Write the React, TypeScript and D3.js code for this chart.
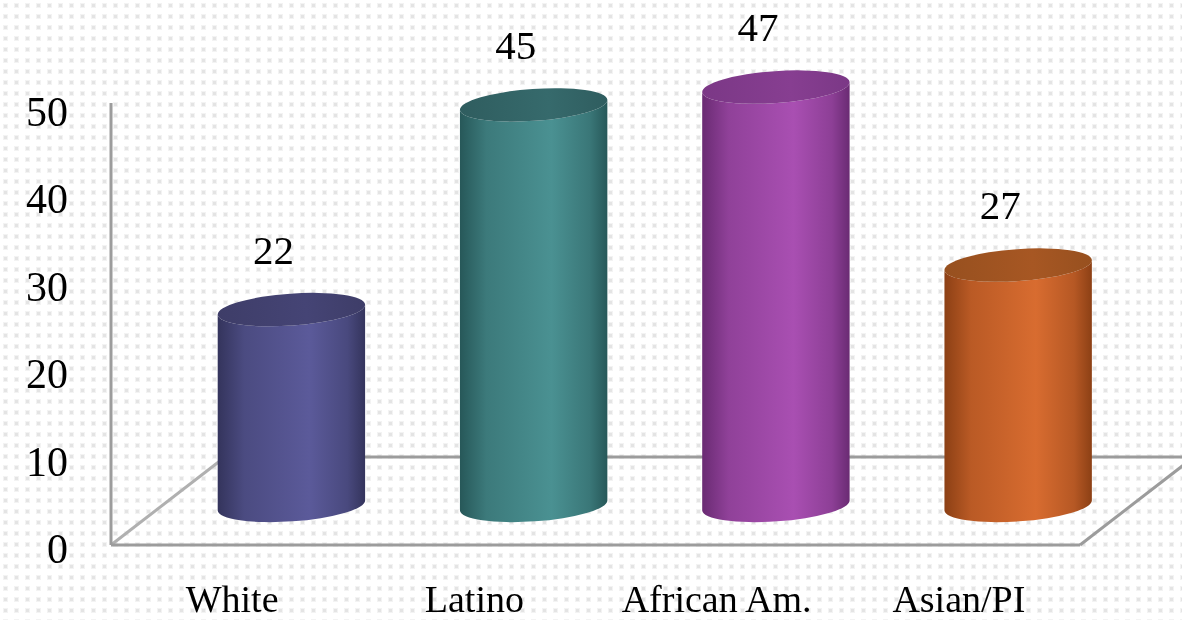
import React from "react";
import * as d3 from "d3";

// Chart data
const categories: string[] = ["White", "Latino", "African Am.", "Asian/PI"];
const values: number[] = [22, 45, 47, 27];
const tickValues: number[] = [0, 10, 20, 30, 40, 50];

// Cylinder colours: [edge shade, highlight, top cap]
const barColors: [string, string, string][] = [
  ["#34345c", "#5b5a9a", "#3e3d68"],
  ["#275859", "#4a9192", "#2f5d5f"],
  ["#6a2b73", "#a94fb2", "#7b3886"],
  ["#8c4015", "#d86c30", "#97501f"],
];

const W = 1182;
const H = 620;
const FONT = "'Liberation Serif', 'Times New Roman', serif";

export default function App() {
  // Floor geometry (front edge and depth vector of the 3D floor)
  const plotLeft = 111;
  const plotRight = 1080;
  const floorY = 545;
  const depthDx = 114;
  const depthDy = -88;
  const axisTop = 103;

  const xFront = d3.scaleBand<string>().domain(categories).range([plotLeft, plotRight]);
  const bw = xFront.bandwidth();

  // Tick label positions along the front axis
  const yTick = d3.scaleLinear().domain([0, 50]).range([549, 112]);

  // Bars stand in the middle of the floor depth
  const barBase = floorY + depthDy * 0.45;
  const yBar = d3.scaleLinear().domain([0, 50]).range([barBase, barBase - 445]);

  const rx = bw * 0.305;
  const ry = 16;
  const rot = -4; // degrees, tilt of the cylinder ellipses
  const th = (rot * Math.PI) / 180;
  const ex = rx * Math.cos(th);
  const ey = rx * Math.sin(th);

  const barCx = (c: string) => (xFront(c) as number) + bw / 2 + depthDx * 0.52;

  const cylinderBody = (cx: number, yt: number, yb: number) => {
    // left side down, front of bottom ellipse, right side up, front of top ellipse back
    return [
      `M${cx - ex},${yt - ey}`,
      `L${cx - ex},${yb - ey}`,
      `A${rx},${ry} ${rot} 0 0 ${cx + ex},${yb + ey}`,
      `L${cx + ex},${yt + ey}`,
      `A${rx},${ry} ${rot} 0 1 ${cx - ex},${yt - ey}`,
      "Z",
    ].join(" ");
  };

  return (
    <svg
      width={W}
      height={H}
      viewBox={`0 0 ${W} ${H}`}
      style={{ position: "fixed", left: 0, top: 0, display: "block" }}
    >
      <defs>
        <pattern id="dots" width={11} height={11} patternUnits="userSpaceOnUse">
          <rect x={0} y={0} width={11} height={11} fill="#ffffff" />
          <rect x={3} y={3} width={5} height={5} fill="#f3f3f3" />
          <rect x={4} y={4} width={3} height={3} fill="#e4e4e4" />
        </pattern>
        {barColors.map((c, i) => (
          <linearGradient key={i} id={`body${i}`} x1="0" x2="1" y1="0" y2="0">
            <stop offset="0%" stopColor={c[0]} />
            <stop offset="18%" stopColor={d3.interpolateRgb(c[0], c[1])(0.6)} />
            <stop offset="62%" stopColor={c[1]} />
            <stop offset="88%" stopColor={d3.interpolateRgb(c[1], c[0])(0.45)} />
            <stop offset="100%" stopColor={c[0]} />
          </linearGradient>
        ))}
        {barColors.map((c, i) => (
          <linearGradient key={i} id={`top${i}`} x1="0" x2="1" y1="0" y2="0">
            <stop offset="0%" stopColor={c[2]} />
            <stop offset="60%" stopColor={d3.interpolateRgb(c[2], c[1])(0.25)} />
            <stop offset="100%" stopColor={c[2]} />
          </linearGradient>
        ))}
      </defs>

      <rect x={0} y={0} width={W} height={H} fill="url(#dots)" />

      {/* 3D floor outline */}
      <g stroke="#9c9c9c" strokeWidth={3} fill="none">
        <line x1={plotLeft + depthDx} y1={floorY + depthDy} x2={plotRight + depthDx} y2={floorY + depthDy} />
        <line x1={plotLeft} y1={floorY} x2={plotLeft + depthDx} y2={floorY + depthDy} stroke="#b0b0b0" />
        <line x1={plotRight} y1={floorY} x2={plotRight + depthDx} y2={floorY + depthDy} />
        <line x1={plotLeft} y1={floorY} x2={plotRight} y2={floorY} />
        <line x1={plotLeft} y1={floorY} x2={plotLeft} y2={axisTop} />
      </g>

      {/* Cylinders */}
      {categories.map((c, i) => {
        const cx = barCx(c);
        const yt = yBar(values[i]);
        const yb = yBar(0);
        return (
          <g key={c}>
            <path d={cylinderBody(cx, yt, yb)} fill={`url(#body${i})`} />
            <ellipse
              cx={cx}
              cy={yt}
              rx={rx}
              ry={ry}
              transform={`rotate(${rot} ${cx} ${yt})`}
              fill={`url(#top${i})`}
            />
          </g>
        );
      })}

      {/* Value labels */}
      {categories.map((c, i) => (
        <text
          key={c}
          x={barCx(c) - 18}
          y={yBar(values[i]) - 60 + 14}
          textAnchor="middle"
          fontFamily={FONT}
          fontSize={41}
          fill="#000"
        >
          {values[i]}
        </text>
      ))}

      {/* Y axis tick labels */}
      {tickValues.map((t) => (
        <text
          key={t}
          x={68}
          y={yTick(t) + 14}
          textAnchor="end"
          fontFamily={FONT}
          fontSize={42}
          fill="#000"
        >
          {t}
        </text>
      ))}

      {/* Category labels */}
      {categories.map((c) => (
        <text
          key={c}
          x={(xFront(c) as number) + bw / 2}
          y={612}
          textAnchor="middle"
          fontFamily={FONT}
          fontSize={38}
          fill="#000"
        >
          {c}
        </text>
      ))}
    </svg>
  );
}
